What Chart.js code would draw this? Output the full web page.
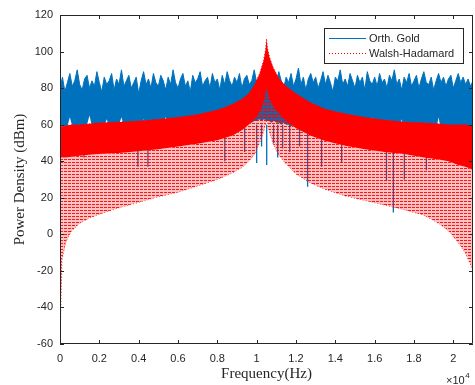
<!DOCTYPE html>
<html>
<head>
<meta charset="utf-8">
<script src="https://cdn.jsdelivr.net/npm/chart.js@4.4.1/dist/chart.umd.min.js"></script>
<style>
  html, body { margin: 0; padding: 0; background: #fff; }
  #wrap { width: 475px; height: 385px; }
  #psd { display: block; }
</style>
</head>
<body>
<div id="wrap"><canvas id="psd" width="475" height="385"></canvas></div>
<script>
// Axis ticks
const freqTicks = [0, 2000, 4000, 6000, 8000, 10000, 12000, 14000, 16000, 18000, 20000];
const levelTicks = [-60, -40, -20, 0, 20, 40, 60, 80, 100, 120];

// Orth. Gold: upper / lower edge of the dense band, sampled every 125 Hz
const goldStep = 125;
const goldTop = [
  80, 86, 78, 83, 88, 81, 84, 90, 82, 79,
  85, 87, 80, 84, 81, 89, 83, 78, 86, 82,
  84, 88, 79, 85, 82, 90, 81, 84, 87, 80,
  83, 86, 77, 84, 89, 82, 85, 80, 88, 83,
  81, 87, 84, 79, 86, 82, 90, 83, 80, 85,
  88, 81, 84, 78, 87, 83, 85, 89, 81, 84,
  86, 80, 88, 83, 85, 79, 87, 82, 89, 84,
  81, 86, 83, 88, 80, 85, 87, 82, 84, 90,
  83, 86, 81, 88, 84, 79, 87, 85, 82, 89,
  84, 80, 86, 83, 88, 81, 85, 91, 82, 86,
  79, 85, 88, 83, 86, 80, 84, 89, 82, 87,
  83, 78, 86, 84, 90, 82, 85, 81, 88, 84,
  80, 87, 83, 86, 79, 89, 84, 82, 86, 81,
  88, 83, 85, 80, 87, 84, 90, 82, 85, 79,
  86, 83, 88, 81, 84, 87, 80, 85, 89, 83,
  82, 86, 79, 84, 88, 83, 86, 81, 85, 87,
  80, 84, 88, 83, 86, 82, 85, 81, 84
];
const goldBase = [
  59, 60, 59, 59, 64, 59, 60, 59, 60, 59,
  59, 60, 65, 59, 60, 59, 59, 60, 59, 63,
  59, 60, 59, 59, 60, 64, 59, 60, 59, 60,
  60, 59, 60, 60, 63, 60, 61, 60, 60, 61,
  61, 60, 61, 64, 61, 61, 62, 61, 62, 62,
  62, 63, 62, 62, 63, 62, 63, 62, 63, 63,
  62, 62, 61, 62, 62, 61, 60, 61, 60, 60,
  59, 60, 59, 60, 61, 60, 61, 62, 61, 62,
  62, 63, 62, 63, 62, 62, 61, 62, 61, 61,
  60, 61, 60, 60, 59, 60, 59, 63, 59, 60,
  59, 59, 58, 59, 59, 58, 59, 64, 58, 59,
  58, 59, 58, 58, 59, 58, 58, 63, 58, 58,
  58, 58, 57, 58, 58, 57, 58, 64, 57, 58,
  57, 58, 57, 57, 58, 57, 57, 58, 57, 63,
  57, 57, 58, 57, 57, 56, 57, 57, 56, 57,
  57, 56, 57, 57, 64, 56, 57, 56, 57, 56,
  56, 57, 56, 56, 57, 56, 57, 56, 56
];
// deep notches of the Gold spectrum
const goldDipFreq = [1220, 3960, 4470, 8380, 9390, 10000, 10250, 10510, 10860, 11070, 11320, 11680, 12180, 12590, 13300, 14320, 16600, 16950, 17510, 18630];
const goldDipLevel = [42, 37, 37, 40, 45, 39, 48, 38, 50, 42, 47, 45, 48, 26, 37, 39, 29, 12, 30, 35];
const goldDipFrom = 60;

// Walsh-Hadamard: top, lower edge of the solid part, lower envelope
const whFreq = [0, 100, 300, 600, 1000, 1500, 2000, 3000, 4000, 5000,
  6000, 7000, 8000, 8750, 9250, 9600, 9900, 10150, 10350, 10450,
  10500, 10550, 10650, 10850, 11150, 11500, 12000, 12750, 13500, 14500,
  15500, 16500, 17500, 18500, 19250, 19750, 20250, 20600, 20850, 21000];
const whTop = [60, 59, 59.5, 60, 60, 60.5, 61, 61.5, 62, 63,
  64, 65.5, 68, 71, 74, 77, 82, 88, 95, 101,
  107, 102, 97, 91, 85, 81, 77, 72, 68.5, 66,
  64, 62.5, 61.5, 61, 60.5, 60, 60, 60, 59.5, 59];
const whMid = [42, 42, 42, 42.5, 43, 43.5, 44, 44.5, 45.5, 46.5,
  48, 49.5, 51.5, 54, 57, 60, 63, 67, 72, 78,
  80, 78, 74, 70, 66, 62, 58, 54, 51, 48.5,
  46.5, 45, 44, 42, 41, 40, 38, 37, 36, 35];
const whLow = [-60, -14, -4, 2, 6, 9, 11, 14.5, 17.5, 20.5,
  23, 26.5, 30, 33.5, 36.5, 40, 44, 50, 56, 60,
  62, 60, 56, 49, 43, 38.5, 33, 28, 24.5, 21,
  18.5, 16, 13.5, 10.5, 6, 2, -4.5, -10, -16, -20];

const BLUE = '#0072BD';
const RED = '#FF0000';
const INK = '#262626';

const goldPts = arr => arr.map((v, i) => ({ x: i * goldStep, y: v }));
const whPts = arr => arr.map((v, i) => ({ x: whFreq[i], y: v }));
const dipPts = [];
goldDipFreq.forEach((f, i) => {
  dipPts.push({ x: f, y: goldDipFrom }, { x: f, y: goldDipLevel[i] }, { x: f, y: null });
});

// dotted-stripe texture for the sparse lower part of the Walsh-Hadamard trace
function stripes() {
  const c = document.createElement('canvas');
  c.width = 4; c.height = 3;
  const g = c.getContext('2d');
  g.fillStyle = 'rgba(255,0,0,0.24)';
  g.fillRect(0, 0, 4, 3);
  g.fillStyle = 'rgba(255,0,0,0.9)';
  g.fillRect(0, 0, 3, 1);
  return g.createPattern(c, 'repeat');
}

const legendRows = [
  { label: 'Orth. Gold', color: BLUE, dash: [] },
  { label: 'Walsh-Hadamard', color: RED, dash: [1, 2] }
];

// MATLAB-style box, inward ticks, legend and the x10^4 multiplier
const frame = {
  id: 'frame',
  afterDatasetsDraw(chart) {
    const { ctx, chartArea: a, scales: { x, y } } = chart;
    ctx.save();
    ctx.strokeStyle = INK;
    ctx.lineWidth = 1;
    ctx.beginPath();
    ctx.rect(a.left + 0.5, a.top + 0.5, a.right - a.left - 1, a.bottom - a.top - 1);
    x.ticks.forEach(t => {
      const px = Math.round(x.getPixelForValue(t.value)) + 0.5;
      ctx.moveTo(px, a.bottom); ctx.lineTo(px, a.bottom - 4);
      ctx.moveTo(px, a.top); ctx.lineTo(px, a.top + 4);
    });
    y.ticks.forEach(t => {
      const py = Math.round(y.getPixelForValue(t.value)) + 0.5;
      ctx.moveTo(a.left, py); ctx.lineTo(a.left + 4, py);
      ctx.moveTo(a.right, py); ctx.lineTo(a.right - 4, py);
    });
    ctx.stroke();

    // legend
    const bx = 324, by = 28, bw = 139, bh = 35;
    ctx.fillStyle = '#fff';
    ctx.fillRect(bx, by, bw, bh);
    ctx.strokeRect(bx + 0.5, by + 0.5, bw, bh);
    ctx.font = '11px "Liberation Sans", Arial, sans-serif';
    ctx.textBaseline = 'middle';
    legendRows.forEach((r, i) => {
      const ly = by + 10.5 + i * 15;
      ctx.save();
      ctx.beginPath();
      ctx.strokeStyle = r.color;
      ctx.lineWidth = 1;
      ctx.setLineDash(r.dash);
      ctx.moveTo(bx + 5, ly); ctx.lineTo(bx + 42, ly);
      ctx.stroke();
      ctx.restore();
      ctx.fillStyle = INK;
      ctx.fillText(r.label, bx + 45, ly);
    });

    // x10^4
    ctx.textBaseline = 'alphabetic';
    ctx.fillStyle = INK;
    ctx.font = '11px "Liberation Sans", Arial, sans-serif';
    ctx.fillText('\u00d710', 446, 383.5);
    const w = ctx.measureText('\u00d710').width;
    ctx.font = '8px "Liberation Sans", Arial, sans-serif';
    ctx.fillText('4', 446 + w + 0.5, 378);
    ctx.restore();
  }
};

new Chart(document.getElementById('psd'), {
  type: 'line',
  data: {
    datasets: [
      { label: legendRows[0].label, data: goldPts(goldTop), borderColor: BLUE, borderWidth: 1,
        backgroundColor: BLUE, fill: '+1', order: 2 },
      { label: 'gold-base', data: goldPts(goldBase), borderColor: BLUE, borderWidth: 0,
        fill: false, order: 2 },
      { label: 'gold-dips', data: dipPts, borderColor: BLUE, borderWidth: 1.3,
        fill: false, spanGaps: false, order: 2 },
      { label: legendRows[1].label, data: whPts(whTop), borderColor: RED, borderWidth: 1,
        borderDash: [1, 2], backgroundColor: RED, fill: '+1', order: 1 },
      { label: 'wh-mid', data: whPts(whMid), borderColor: RED, borderWidth: 0,
        backgroundColor: stripes(), fill: '+1', order: 1 },
      { label: 'wh-low', data: whPts(whLow), borderColor: 'rgba(255,0,0,0.7)', borderWidth: 1,
        borderDash: [1, 2], fill: false, order: 1 }
    ]
  },
  options: {
    responsive: false,
    animation: false,
    events: [],
    layout: { padding: { top: 15, right: 2, left: 0, bottom: 0 } },
    elements: { point: { radius: 0 }, line: { tension: 0 } },
    plugins: { legend: { display: false }, tooltip: { enabled: false } },
    scales: {
      x: {
        type: 'linear', min: 0, max: 21000,
        afterBuildTicks: s => { s.ticks = freqTicks.map(v => ({ value: v })); },
        afterFit: s => { s.height = 41; },
        grid: { display: false, drawTicks: false },
        border: { display: false },
        ticks: {
          autoSkip: false, maxRotation: 0, padding: 8, color: INK,
          font: { family: '"Liberation Sans", Arial, sans-serif', size: 11 },
          callback: v => String(v / 10000)
        },
        title: {
          display: true, text: 'Frequency(Hz)', color: INK,
          font: { family: '"Liberation Serif", "Times New Roman", serif', size: 15 },
          padding: { top: 0, bottom: 2 }
        }
      },
      y: {
        min: -60, max: 120,
        afterBuildTicks: s => { s.ticks = levelTicks.map(v => ({ value: v })); },
        afterFit: s => { s.width = 60; },
        grid: { display: false, drawTicks: false },
        border: { display: false },
        ticks: {
          padding: 7, color: INK,
          font: { family: '"Liberation Sans", Arial, sans-serif', size: 11 }
        },
        title: {
          display: true, text: 'Power Density (dBm)', color: INK,
          font: { family: '"Liberation Serif", "Times New Roman", serif', size: 15 },
          padding: { top: 11, bottom: 0 }
        }
      }
    }
  },
  plugins: [frame]
});
</script>
</body>
</html>
